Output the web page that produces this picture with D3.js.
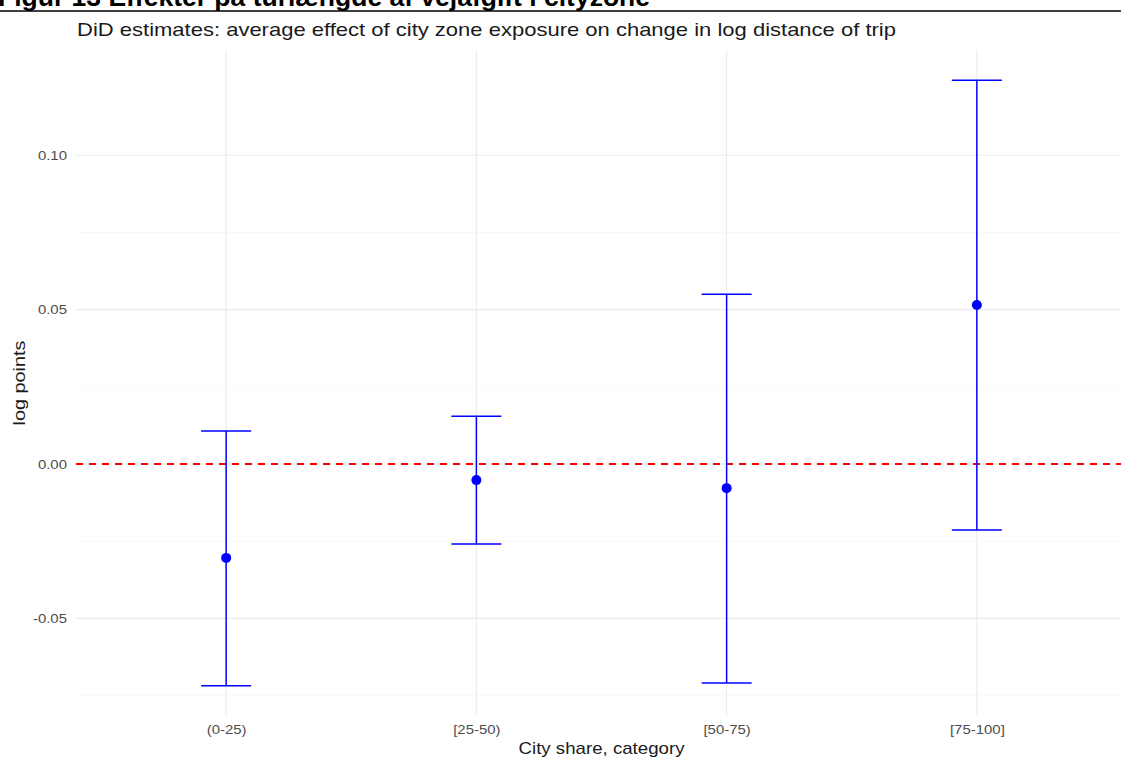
<!DOCTYPE html>
<html>
<head>
<meta charset="UTF-8"/>
<title>DiD estimates</title>
<script src="https://d3js.org/d3.v7.min.js"></script>
<style>
  body { margin: 0; background: #fff; }
  svg { display: block; font-family: "Liberation Sans", Arial, sans-serif; }
  .grid line { stroke: #ebebeb; }
  .grid .minor { stroke: #f4f4f4; }
</style>
</head>
<body>
<script>
  var categories = ["(0-25)", "[25-50)", "[50-75)", "[75-100]"];
  var estimate   = [-0.0304, -0.0052, -0.0078, 0.0515];
  var ciLower    = [-0.0718, -0.0259, -0.0709, -0.0214];
  var ciUpper    = [ 0.0107,  0.0155,  0.0550,  0.1243];
  var yTicks      = [-0.05, 0.00, 0.05, 0.10];
  var yMinorTicks = [-0.075, -0.025, 0.025, 0.075];

  var rows = categories.map(function(c, i) {
    return {cat: c, est: estimate[i], lo: ciLower[i], hi: ciUpper[i]};
  });

  var W = 1121, H = 758;
  var margin = {top: 50, right: -6, bottom: 42, left: 76};
  var width = W - margin.left - margin.right,
      height = H - margin.top - margin.bottom;

  var svg = d3.select("body").append("svg")
    .attr("width", W)
    .attr("height", H);

  // report heading, cut off at the top of the page, + rule
  svg.append("text")
    .attr("x", -2)
    .attr("y", 6)
    .attr("font-size", 25)
    .attr("font-weight", "bold")
    .attr("fill", "#000")
    .attr("textLength", 652)
    .attr("lengthAdjust", "spacingAndGlyphs")
    .text("Figur 13 Effekter på turlængde af vejafgift i cityzone");
  svg.append("line")
    .attr("x1", 0).attr("x2", W)
    .attr("y1", 11).attr("y2", 11)
    .attr("stroke", "#000").attr("stroke-width", 1.5);

  var g = svg.append("g")
    .attr("transform", "translate(" + margin.left + "," + margin.top + ")");

  // discrete x like ggplot (0.6 expansion on each side)
  var n = categories.length;
  var xlin = d3.scaleLinear().domain([1 - 0.6, n + 0.6]).range([0, width]);
  var x = function(c) { return xlin(categories.indexOf(c) + 1); };
  var step = xlin(2) - xlin(1);

  var lo = d3.min(ciLower), hi = d3.max(ciUpper), pad = (hi - lo) * 0.05;
  var y = d3.scaleLinear().domain([lo - pad, hi + pad]).range([height, 0]);

  var grid = g.append("g").attr("class", "grid");
  grid.selectAll("line.minor").data(yMinorTicks).enter().append("line")
    .attr("class", "minor")
    .attr("x1", 0).attr("x2", width)
    .attr("y1", function(d) { return y(d); }).attr("y2", function(d) { return y(d); })
    .attr("stroke-width", 0.6);
  grid.selectAll("line.major").data(yTicks).enter().append("line")
    .attr("class", "major")
    .attr("x1", 0).attr("x2", width)
    .attr("y1", function(d) { return y(d); }).attr("y2", function(d) { return y(d); })
    .attr("stroke-width", 1.1);
  grid.selectAll("line.vx").data(categories).enter().append("line")
    .attr("class", "vx")
    .attr("x1", function(d) { return x(d); }).attr("x2", function(d) { return x(d); })
    .attr("y1", 0).attr("y2", height)
    .attr("stroke-width", 1.1);

  // the source's tick font is a bit wider than Liberation Sans
  function styleTicks(sel) {
    sel.attr("fill", "#4d4d4d")
      .attr("font-family", null)
      .attr("font-size", 13)
      .each(function() {
        var len = this.getComputedTextLength();
        d3.select(this).attr("textLength", len * 1.15).attr("lengthAdjust", "spacingAndGlyphs");
      });
  }

  // axes text only (theme_minimal has no axis lines)
  var fmt = function(d) { return d3.format(".2f")(d).replace("\u2212", "-"); };
  var yAxis = d3.axisLeft(y).tickValues(yTicks).tickFormat(fmt).tickSize(0).tickPadding(9);
  g.append("g").call(yAxis)
    .call(function(s) { s.select(".domain").remove(); })
    .selectAll("text").call(styleTicks);

  var xAxis = d3.axisBottom(d3.scalePoint().domain(categories).range([x(categories[0]), x(categories[n - 1])]))
    .tickSize(0).tickPadding(9);
  g.append("g").attr("transform", "translate(0," + height + ")").call(xAxis)
    .call(function(s) { s.select(".domain").remove(); })
    .selectAll("text").call(styleTicks);

  // zero reference line
  g.append("line")
    .attr("x1", 0).attr("x2", width)
    .attr("y1", y(0)).attr("y2", y(0))
    .attr("stroke", "#ff0000")
    .attr("stroke-width", 2)
    .attr("stroke-dasharray", "7,6");

  // error bars
  var capHalf = step * 0.1;
  var bars = g.selectAll(".bar").data(rows).enter().append("g").attr("class", "bar");
  bars.append("line")
    .attr("x1", function(d) { return x(d.cat); }).attr("x2", function(d) { return x(d.cat); })
    .attr("y1", function(d) { return y(d.lo); }).attr("y2", function(d) { return y(d.hi); })
    .attr("stroke", "#0000ff").attr("stroke-width", 1.5);
  bars.append("line")
    .attr("x1", function(d) { return x(d.cat) - capHalf; }).attr("x2", function(d) { return x(d.cat) + capHalf; })
    .attr("y1", function(d) { return y(d.hi); }).attr("y2", function(d) { return y(d.hi); })
    .attr("stroke", "#0000ff").attr("stroke-width", 1.5);
  bars.append("line")
    .attr("x1", function(d) { return x(d.cat) - capHalf; }).attr("x2", function(d) { return x(d.cat) + capHalf; })
    .attr("y1", function(d) { return y(d.lo); }).attr("y2", function(d) { return y(d.lo); })
    .attr("stroke", "#0000ff").attr("stroke-width", 1.5);
  bars.append("circle")
    .attr("cx", function(d) { return x(d.cat); })
    .attr("cy", function(d) { return y(d.est); })
    .attr("r", 5)
    .attr("fill", "#0000ff");

  // titles
  svg.append("text")
    .attr("x", 77).attr("y", 36)
    .attr("font-size", 19)
    .attr("fill", "#1a1a1a")
    .attr("textLength", 819)
    .attr("lengthAdjust", "spacingAndGlyphs")
    .text("DiD estimates: average effect of city zone exposure on change in log distance of trip");

  svg.append("text")
    .attr("x", margin.left + width / 2).attr("y", 754)
    .attr("text-anchor", "middle")
    .attr("font-size", 17)
    .attr("fill", "#1a1a1a")
    .attr("textLength", 166)
    .attr("lengthAdjust", "spacingAndGlyphs")
    .text("City share, category");

  svg.append("text")
    .attr("transform", "translate(25," + (margin.top + height / 2) + ") rotate(-90)")
    .attr("text-anchor", "middle")
    .attr("font-size", 17)
    .attr("fill", "#1a1a1a")
    .attr("textLength", 85)
    .attr("lengthAdjust", "spacingAndGlyphs")
    .text("log points");
</script>
</body>
</html>
